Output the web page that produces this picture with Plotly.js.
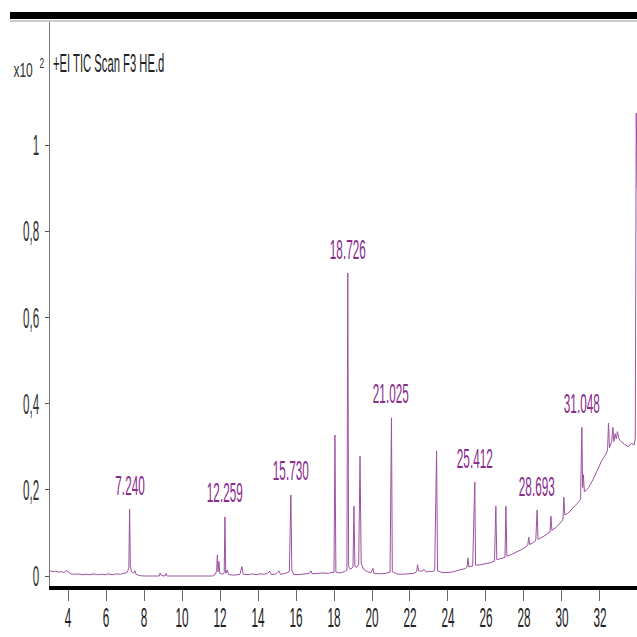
<!DOCTYPE html>
<html>
<head>
<meta charset="utf-8">
<script src="https://cdn.plot.ly/plotly-3.0.1.min.js"></script>
<style>
  html, body { margin: 0; padding: 0; background: #fff; }
  #chart { width: 637px; height: 637px; }
</style>
</head>
<body>
<div id="chart"></div>
<script>
// Retention time (min)
const rt = [
  3.05,3.20,3.35,3.50,3.65,3.80,3.90,4.00,4.15,4.35,
  4.55,4.75,4.95,5.15,5.35,5.55,5.75,5.95,6.15,6.35,
  6.55,6.75,6.95,7.10,7.20,7.24,7.28,7.33,7.45,7.52,
  7.58,7.75,8.00,8.80,8.85,8.92,9.10,9.15,9.22,11.60,
  11.75,11.82,11.86,11.90,11.94,11.99,12.15,12.22,12.259,12.30,
  12.38,12.45,12.80,13.05,13.15,13.22,13.50,13.70,13.90,14.10,
  14.30,14.50,14.62,14.70,14.95,15.10,15.18,15.45,15.65,15.73,
  15.78,15.88,16.10,16.40,16.70,16.78,16.85,17.10,17.40,17.70,
  17.90,18.00,18.05,18.10,18.30,18.55,18.68,18.726,18.77,18.85,
  18.95,19.00,19.05,19.10,19.20,19.30,19.37,19.43,19.55,19.75,
  19.95,20.05,20.10,20.40,20.70,20.95,21.025,21.07,21.30,21.60,
  21.90,22.20,22.35,22.40,22.45,22.60,22.75,22.85,23.00,23.15,
  23.30,23.40,23.45,23.70,24.00,24.30,24.60,24.90,25.00,25.05,
  25.10,25.30,25.412,25.45,25.70,26.00,26.25,26.45,26.52,26.57,
  26.80,27.00,27.05,27.10,27.35,27.60,27.85,28.05,28.20,28.25,
  28.30,28.50,28.62,28.693,28.74,29.00,29.20,29.37,29.42,29.47,
  29.70,29.90,30.05,30.10,30.15,30.30,30.55,30.80,30.98,31.048,
  31.09,31.13,31.18,31.40,31.65,31.90,32.10,32.30,32.40,32.45,
  32.50,32.62,32.68,32.73,32.80,32.86,32.92,33.00,33.15,33.30,
  33.50,33.65,33.80,33.86,33.91,33.96
];
// Abundance (x10^2)
const abundance = [
  .012,.010,.011,.009,.010,.008,.013,.009,.005,.004,
  .005,.003,.004,.003,.005,.003,.004,.003,.005,.003,
  .005,.004,.006,.008,.018,.155,.025,.010,.007,.012,
  .004,.001,0,0,.007,.001,0,.006,0,0,
  .004,.012,.049,.010,.034,.006,.004,.008,.137,.006,
  .014,.003,.002,.004,.022,.004,.003,.005,.003,.005,
  .004,.006,.011,.003,.005,.012,.004,.006,.010,.188,
  .014,.004,.003,.005,.006,.012,.005,.006,.007,.006,
  .009,.008,.327,.009,.007,.010,.014,.703,.022,.016,
  .018,.022,.162,.022,.020,.028,.278,.030,.016,.010,
  .008,.018,.006,.005,.006,.009,.367,.010,.005,.004,
  .005,.006,.010,.026,.012,.011,.015,.009,.011,.010,
  .013,.290,.012,.008,.008,.010,.014,.017,.020,.042,
  .021,.023,.218,.025,.026,.028,.031,.035,.162,.038,
  .040,.043,.162,.046,.050,.055,.061,.066,.071,.090,
  .073,.078,.082,.153,.085,.091,.097,.102,.139,.106,
  .113,.122,.130,.183,.142,.145,.156,.168,.178,.345,
  .205,.235,.195,.205,.225,.250,.268,.282,.292,.355,
  .298,.312,.345,.312,.330,.318,.335,.318,.310,.305,
  .300,.308,.304,.320,1.074,.900
];
// Labelled peaks
const peakLabels = ["7.240","12.259","15.730","18.726","21.025","25.412","28.693","31.048"];
const peakRT = [7.240,12.259,15.730,18.726,21.025,25.412,28.693,31.048];
const peakHeight = [.155,.137,.188,.703,.367,.218,.153,.345];
// Axis ticks
const xTickVals = [4,6,8,10,12,14,16,18,20,22,24,26,28,30,32,34];
const xTickText = ["4","6","8","10","12","14","16","18","20","22","24","26","28","30","32","34"];
const yTickVals = [0,0.2,0.4,0.6,0.8,1];
const yTickText = ["0","0,2","0,4","0,6","0,8","1"];

const FONT = "Liberation Sans, Arial, sans-serif";
const labelColor = "#8a2c8e";

const trace = {
  x: rt, y: abundance, type: "scatter", mode: "lines",
  line: { color: "#9c52a0", width: 1 },
  hoverinfo: "skip"
};

const annotations = peakLabels.map((t, i) => ({
  x: peakRT[i], y: peakHeight[i], xref: "x", yref: "y",
  text: t, showarrow: false, xanchor: "center", yanchor: "middle",
  yshift: 24, font: { family: FONT, size: 28, color: labelColor }
}));
// "x10" multiplier and its exponent, left of the axis
annotations.push({
  x: (23 - 50) / 587, y: (586 - 70) / 564, xref: "paper", yref: "paper",
  text: "x10", showarrow: false, xanchor: "center", yanchor: "middle",
  font: { family: FONT, size: 20, color: "#333" }
});
annotations.push({
  x: (41.5 - 50) / 587, y: (586 - 63) / 564, xref: "paper", yref: "paper",
  text: "2", showarrow: false, xanchor: "center", yanchor: "middle",
  font: { family: FONT, size: 14, color: "#333" }
});

const layout = {
  width: 637, height: 637,
  margin: { l: 50, r: 0, t: 22, b: 51, pad: 0 },
  paper_bgcolor: "#fff", plot_bgcolor: "#fff",
  showlegend: false,
  title: {
    text: "+EI TIC Scan F3 HE.d",
    x: 53 / 637, xanchor: "left", xref: "container",
    y: 1 - 63 / 637, yanchor: "middle", yref: "container",
    font: { family: FONT, size: 25, color: "#222" }
  },
  xaxis: {
    range: [3.05, 33.95], showgrid: false, zeroline: false,
    showline: true, linecolor: "#000", linewidth: 4,
    ticks: "outside", ticklen: 11, tickwidth: 1, tickcolor: "#666",
    ticklabelstandoff: -8,
    tickmode: "array", tickvals: xTickVals, ticktext: xTickText,
    tickfont: { family: FONT, size: 28, color: "#222" }
  },
  yaxis: {
    range: [-0.0232, 1.2854], showgrid: false, zeroline: false,
    showline: true, linecolor: "#777", linewidth: 1,
    ticks: "outside", ticklen: 4, tickwidth: 1, tickcolor: "#555",
    tickmode: "array", tickvals: yTickVals, ticktext: yTickText,
    tickfont: { family: FONT, size: 29, color: "#333" }
  },
  shapes: [
    { type: "rect", xref: "paper", yref: "paper",
      x0: (10 - 50) / 587, x1: 1.01, y0: 1 + 3 / 564, y1: 1 + 10 / 564,
      fillcolor: "#000", line: { width: 0 } },
    { type: "line", xref: "paper", yref: "paper",
      x0: (10 - 50) / 587, x1: 1.01, y0: 1 + 1 / 564, y1: 1 + 1 / 564,
      line: { color: "#999", width: 1 } }
  ],
  annotations: annotations
};

function squeeze(el, s) {
  const x = parseFloat(el.getAttribute("x")) || 0;
  const t = el.getAttribute("transform") || "";
  el.setAttribute("transform", t + " translate(" + x + ",0) scale(" + s + ",1) translate(" + (-x) + ",0)");
}

Plotly.newPlot("chart", [trace], layout, { staticPlot: true }).then(gd => {
  gd.querySelectorAll("g.xtick text").forEach(el => squeeze(el, 0.42));
  gd.querySelectorAll("g.ytick text").forEach(el => squeeze(el, 0.40));
  gd.querySelectorAll("text.gtitle").forEach(el => squeeze(el, 0.45));
  gd.querySelectorAll("g.annotation").forEach(g => {
    const idx = parseInt(g.getAttribute("data-index"), 10);
    const el = g.querySelector("text.annotation-text");
    if (!el) return;
    squeeze(el, idx < peakLabels.length ? 0.42 : 0.6);
  });
});
</script>
</body>
</html>
